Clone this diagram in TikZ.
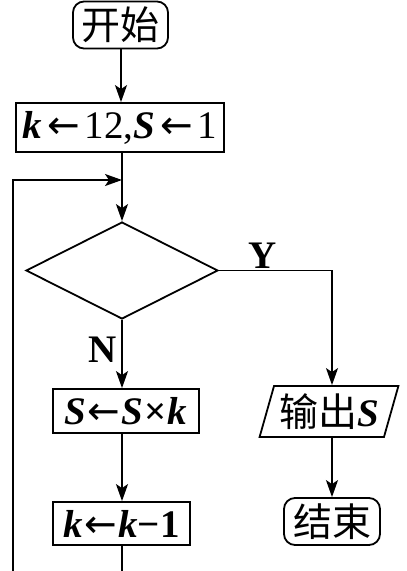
\documentclass[tikz,border=0pt]{standalone}
\usepackage{fontspec}
\setmainfont{Liberation Serif}
\newfontfamily\cjk{Noto Sans CJK SC}
\newfontfamily\symf{DejaVu Sans}
\usetikzlibrary{shapes.geometric,arrows.meta}
\newcommand{\la}{{\symf\kern-0.04em←\kern-0.04em}}
\newcommand{\vb}[1]{\textbf{\textit{#1}}}
\begin{document}
\begin{tikzpicture}[x=1pt,y=1pt,
  every node/.style={font=\fontsize{39}{41}\selectfont, inner sep=0pt},
  procbox/.style={draw, line width=1.8pt, minimum height=45pt},
  termbox/.style={draw, line width=1.8pt, rounded corners=11pt, minimum height=47pt},
  flow/.style={line width=1.7pt, -{Stealth[length=17pt,width=12pt,inset=4pt]}},
  plain/.style={line width=1.7pt},
  lbl/.style={font=\fontsize{39}{41}\selectfont\bfseries}]
\useasboundingbox (0,0) rectangle (407,-571);
\node[termbox, minimum width=95pt] (start) at (120.5,-25) {\cjk 开始};
\node[procbox, minimum width=208pt, minimum height=49pt] (init) at (120,-127.5) {\vb{k}\,\la\,12,\vb{S}\,\la\,1};
\node[draw, line width=1.8pt, shape=diamond, aspect=1.98, minimum width=192pt, minimum height=97pt] (dia) at (122,-270.5) {};
\node[procbox, minimum width=146pt, minimum height=44pt] (mul) at (126,-411) {\vb{S}\kern3pt\la\kern3pt\vb{S}\kern1pt\textbf{×}\kern1pt\vb{k}};
\node[procbox, minimum width=137pt, minimum height=43pt] (dec) at (121.5,-523.5) {\vb{k}\kern3pt\la\kern3pt\vb{k}\textbf{−1}};
\node[draw, line width=1.8pt, trapezium, trapezium left angle=70, trapezium right angle=110, trapezium stretches=true, minimum width=139pt, minimum height=51pt] (out) at (329,-411.5) {{\cjk 输出}\vb{S}};
\node[termbox, minimum width=96pt] (end) at (332,-521.5) {\cjk 结束};
\coordinate (join) at (122,-180);
\coordinate (cutmid) at (122,-571);
\coordinate (cutleft) at (13,-571);
\coordinate (ycorner) at (332,-270.5);
\node[lbl] (ylab) at (263,-256) {Y};
\node[lbl] (nlab) at (103,-350) {N};
\draw[flow] (121,0 |- start.south) -- (121,0 |- init.north);
\draw[flow] (init.south -| dia.north) -- (dia.north);
\draw[flow] (cutleft) -- (13,-180) -- (join);
\draw[flow] (dia.south) -- (dia.south |- mul.north);
\draw[flow] (dia.south |- mul.south) -- (dia.south |- dec.north);
\draw[plain] (dia.south |- dec.south) -- (cutmid);
\draw[flow] (dia.east) -- (ycorner) -- (ycorner |- out.north);
\draw[flow] (ycorner |- out.south) -- (end.north);
\end{tikzpicture}
\end{document}
